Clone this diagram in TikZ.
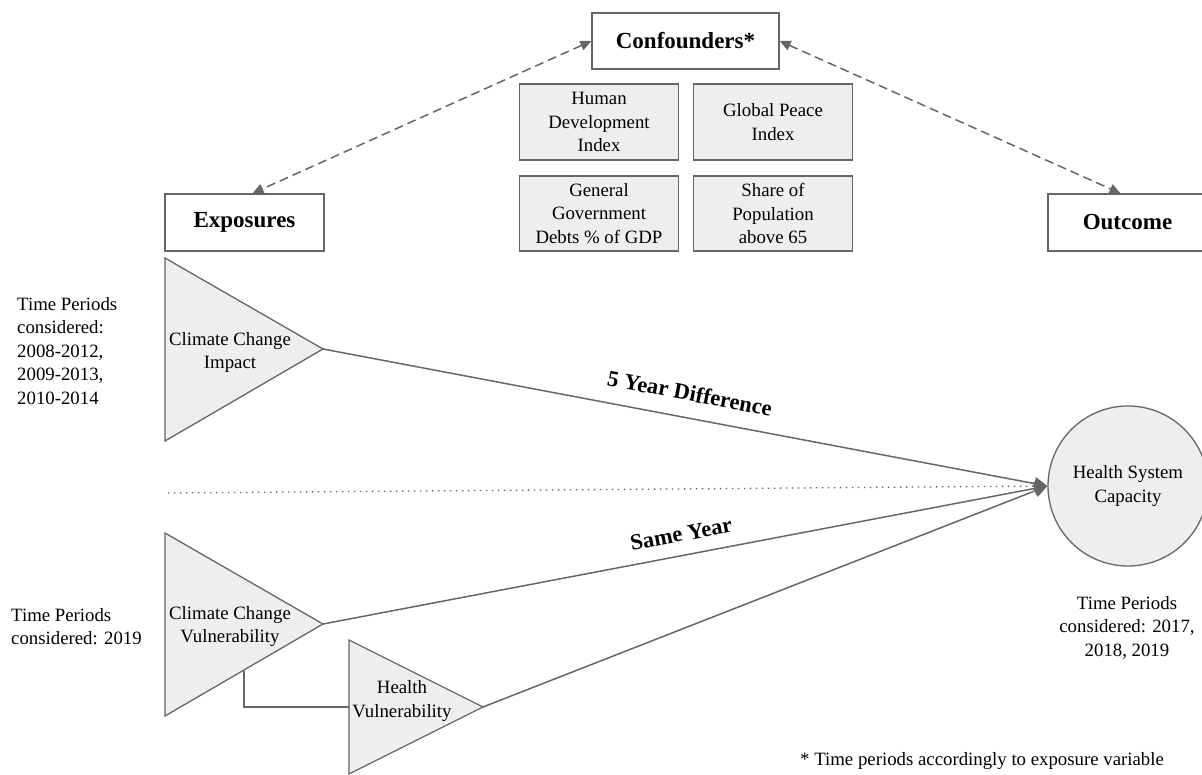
\documentclass[tikz,border=0pt]{standalone}
\usepackage{fontspec}
\setmainfont{Liberation Serif}
\usetikzlibrary{arrows.meta}
\definecolor{lc}{HTML}{666666}
\definecolor{fc}{HTML}{EEEEEE}
\begin{document}
\begin{tikzpicture}[x=1pt,y=-1pt,
  txt/.style={font=\fontsize{18.8}{23.5}\selectfont, align=center, inner sep=0pt},
  whitebox/.style={draw=lc, line width=1.3pt, fill=white, minimum width=159pt, minimum height=57pt, font=\fontsize{23}{28}\selectfont\bfseries, inner sep=0pt},
  graybox/.style={txt, draw=lc, line width=1.3pt, fill=fc, minimum width=159pt, minimum height=76pt},
  tri/.style={draw=lc, line width=1.3pt, fill=fc, line join=miter},
  link/.style={draw=lc, line width=1.5pt},
  arr/.style={link, -{Triangle[length=13pt,width=13pt]}},
  dasharr/.style={link, dash pattern=on 9pt off 5pt, {Triangle[length=11pt,width=10pt]}-{Triangle[length=11pt,width=10pt]}},
  lab/.style={font=\fontsize{22.5}{26}\selectfont\bfseries, inner sep=0pt},
]
\useasboundingbox (0,0) rectangle (1202,775);

% top boxes
\node[whitebox, minimum width=187pt, minimum height=56pt] (conf) at (685.5,41) {Confounders*};
\node[whitebox] (exp) at (244.5,222.5) {Exposures};
\node[whitebox] (outc) at (1127.5,222.5) {Outcome};

\node[graybox] (hdi) at (599,122) {Human\\Development\\Index};
\node[graybox] (gpi) at (773,122) {Global Peace\\Index};
\node[graybox, minimum height=75pt] (ggd) at (599,213.5) {General\\Government\\Debts \% of GDP};
\node[graybox, minimum height=75pt] (pop) at (773,213.5) {Share of\\Population\\above 65};

\draw[dasharr] (conf.west) -- ([xshift=8pt]exp.north);
\draw[dasharr] (conf.east) -- ([xshift=-7pt]outc.north);

% triangles
\draw[tri] (165,258) -- (323,349) -- (165,441) -- cycle;
\coordinate (t1) at (323,349);
\node[txt] (cci) at (230,352.5) {Climate Change\\Impact};

\draw[tri] (165,533) -- (323,624) -- (165,716) -- cycle;
\coordinate (t2) at (323,624);
\coordinate (t2e) at (244,670.5);
\node[txt] (ccv) at (230,626.5) {Climate Change\\Vulnerability};

\draw[tri] (349,640) -- (483,707) -- (349,774) -- cycle;
\coordinate (t3) at (483,707);
\coordinate (t3w) at (349,707);
\node[txt] (hv) at (402,701) {Health\\Vulnerability};

\draw[draw=lc, line width=1.3pt] (t2e) |- (t3w);

% outcome circle
\node[txt, circle, draw=lc, fill=fc, line width=1.3pt, minimum size=160pt] (hsc) at (1128,486) {Health System\\Capacity};

% dotted separator
\draw[lc, line width=1.3pt, dash pattern=on 1.3pt off 4.7pt] (168,493) -- (hsc.west);

% paths
\draw[arr] (t1) -- node[lab, sloped, above=16pt, pos=0.5] (l1) {5 Year Difference} (hsc.west);
\draw[arr] (t2) -- node[lab, sloped, above=13pt, pos=0.5] (l2) {Same Year} (hsc.west);
\draw[arr] (t3) -- (hsc.west);

% time period texts
\node[txt, align=left, anchor=west] (tp1) at (17,351) {Time Periods\\considered:\\2008-2012,\\2009-2013,\\2010-2014};
\node[txt, align=left, anchor=west] (tp2) at (11,626.5) {Time Periods\\considered: 2019};
\node[txt] (tp3) at (1127,627.5) {Time Periods\\considered: 2017,\\2018, 2019};
\node[txt, anchor=west] (fn) at (800,761) {* Time periods accordingly to exposure variable};
\end{tikzpicture}
\end{document}
